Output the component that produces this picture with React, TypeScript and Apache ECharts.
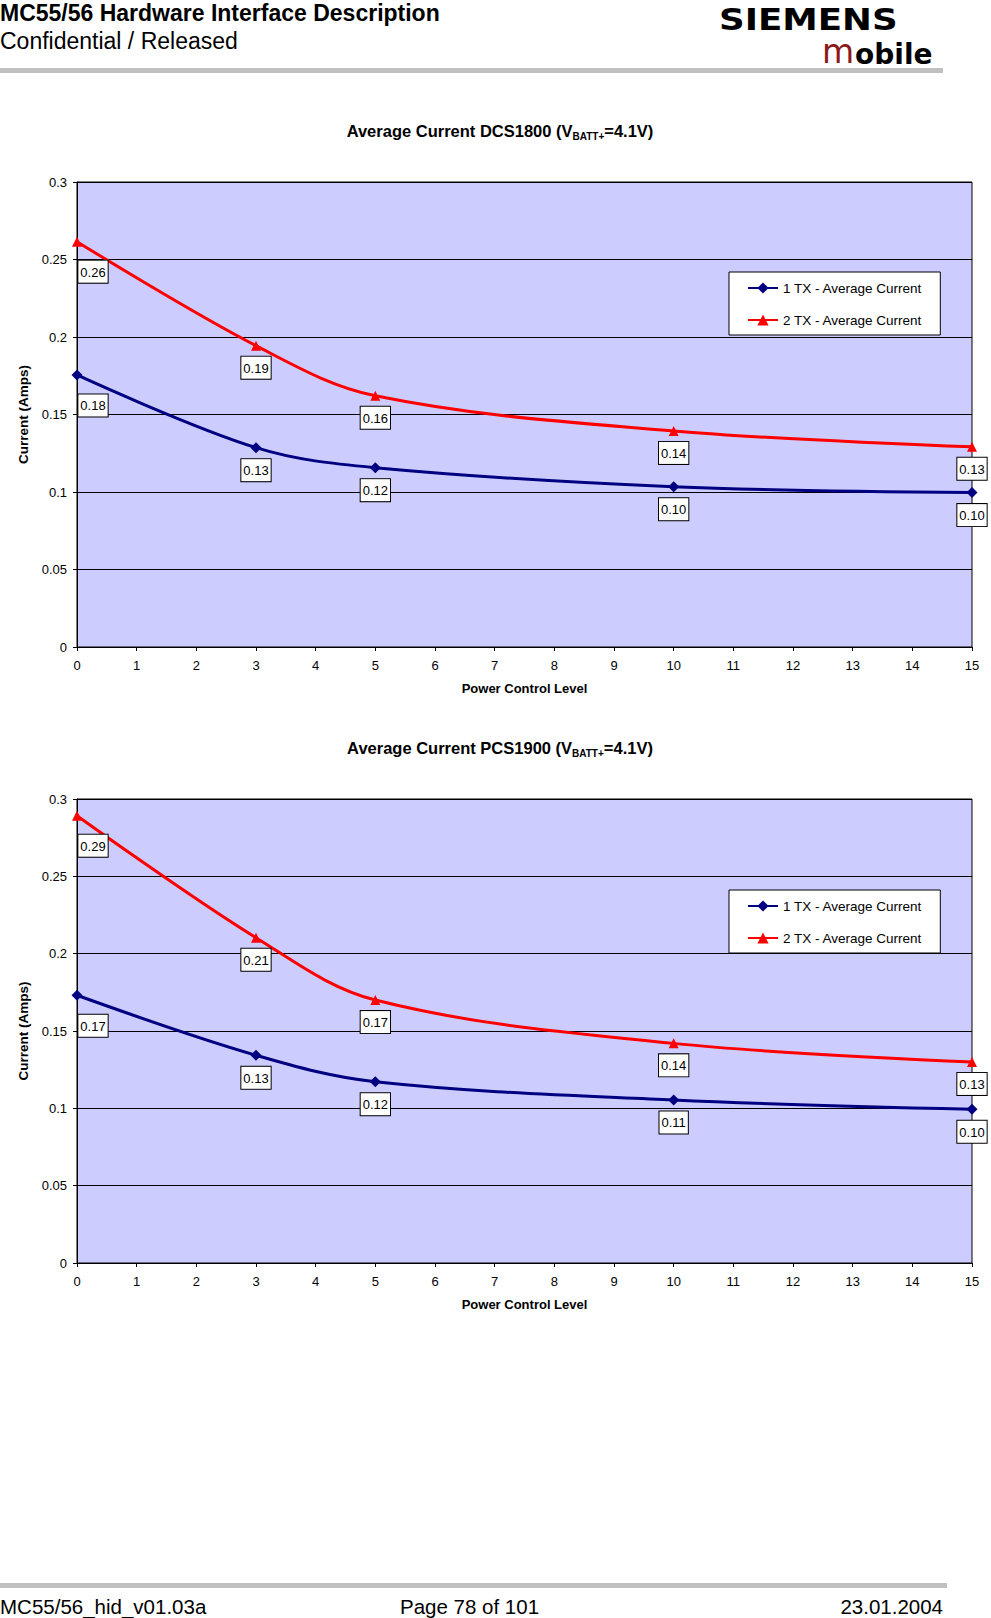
import React, { useEffect, useRef } from "react";
import * as echarts from "echarts";

const FONT = '"Liberation Sans", Arial, Helvetica, sans-serif';

// Power control levels measured
const levels = [0, 3, 5, 10, 15];

// DCS1800 (chart 1)
const dcs1Tx = [0.1755, 0.1286, 0.1157, 0.1034, 0.0996];
const dcs2Tx = [0.2615, 0.1944, 0.1621, 0.1394, 0.1292];

// PCS1900 (chart 2)
const pcs1Tx = [0.1731, 0.1343, 0.1172, 0.1054, 0.0994];
const pcs2Tx = [0.2892, 0.2103, 0.1700, 0.1420, 0.1300];

const seriesNames = ["1 TX - Average Current", "2 TX - Average Current"];
const chartTitles = ["Average Current DCS1800 (V", "Average Current PCS1900 (V"];
const yAxisName = "Current (Amps)";
const xAxisName = "Power Control Level";

const header1 = "MC55/56 Hardware Interface Description";
const header2 = "Confidential / Released";
const footerLeft = "MC55/56_hid_v01.03a";
const footerMid = "Page 78 of 101";
const footerRight = "23.01.2004";

const grids = [
  { top: 182, height: 465, titleY: 131, legendTop: 272 },
  { top: 799, height: 464, titleY: 748, legendTop: 890 },
];

function buildData(vals: number[]) {
  return levels.map((x, i) =>
    i === 0 ? { value: [x, vals[i]], label: { offset: [16, 8] } } : { value: [x, vals[i]] }
  );
}

export default function App() {
  const ref = useRef<HTMLDivElement>(null);
  useEffect(() => {
    document.body.style.margin = "0";
    if (!ref.current) return;
    const chart = echarts.init(ref.current, undefined, { renderer: "svg" });

    const labelStyle = {
      show: true,
      position: "bottom",
      distance: 6,
      formatter: (p: any) => Number(p.value[1]).toFixed(2),
      backgroundColor: "#ffffff",
      borderColor: "#000000",
      borderWidth: 1,
      padding: [4, 2, 3, 2],
      fontSize: 13,
      lineHeight: 15,
      color: "#000000",
      fontFamily: FONT,
    };

    const seriesSets = [
      [dcs1Tx, dcs2Tx],
      [pcs1Tx, pcs2Tx],
    ];

    const series: any[] = [];
    seriesSets.forEach((set, gi) => {
      series.push({
        name: seriesNames[1],
        type: "line",
        xAxisIndex: gi,
        yAxisIndex: gi,
        data: buildData(set[1]),
        smooth: 0.35,
        symbol: "triangle",
        symbolSize: 10,
        itemStyle: { color: "#ff0000" },
        lineStyle: { color: "#ff0000", width: 3 },
        label: labelStyle,
        z: 3,
      });
      series.push({
        name: seriesNames[0],
        type: "line",
        xAxisIndex: gi,
        yAxisIndex: gi,
        data: buildData(set[0]),
        smooth: 0.35,
        symbol: "diamond",
        symbolSize: 11,
        itemStyle: { color: "#000080" },
        lineStyle: { color: "#000080", width: 3 },
        label: labelStyle,
        z: 4,
      });
    });

    const graphic: any[] = [
      {
        type: "text",
        x: 0,
        y: 13,
        style: { text: header1, font: `bold 23px ${FONT}`, fill: "#000", verticalAlign: "middle" },
      },
      {
        type: "text",
        x: 0,
        y: 41,
        style: { text: header2, font: `23px ${FONT}`, fill: "#000", verticalAlign: "middle" },
      },
      {
        type: "text",
        x: 719,
        y: 1,
        scaleX: 1.15,
        style: { text: "SIEMENS", font: `bold 31px "DejaVu Sans", sans-serif`, fill: "#000", verticalAlign: "top", lineHeight: 36 },
      },
      {
        type: "text",
        x: 822,
        y: 68,
        style: { text: "m", font: `33px "DejaVu Sans", sans-serif`, fill: "#8c1a1a", verticalAlign: "bottom" },
      },
      {
        type: "text",
        x: 855,
        y: 68,
        style: { text: "obile", font: `bold 28px "DejaVu Sans", sans-serif`, fill: "#000", verticalAlign: "bottom" },
      },
      { type: "rect", shape: { x: 0, y: 68, width: 943, height: 5 }, style: { fill: "#c0c0c0" } },
      { type: "rect", shape: { x: 0, y: 1583, width: 947, height: 5 }, style: { fill: "#c0c0c0" } },
      {
        type: "text",
        x: 0,
        y: 1606,
        style: { text: footerLeft, font: `20.5px ${FONT}`, fill: "#000", verticalAlign: "middle" },
      },
      {
        type: "text",
        x: 400,
        y: 1606,
        style: { text: footerMid, font: `20.5px ${FONT}`, fill: "#000", verticalAlign: "middle" },
      },
      {
        type: "text",
        x: 943,
        y: 1606,
        style: { text: footerRight, font: `20.5px ${FONT}`, fill: "#000", align: "right", verticalAlign: "middle" },
      },
    ];

    grids.forEach((g, gi) => {
      graphic.push({
        type: "text",
        x: 500,
        y: g.titleY,
        style: {
          text: `{b|${chartTitles[gi]}}{s|BATT+}{b|=4.1V)}`,
          align: "center",
          verticalAlign: "middle",
          rich: {
            b: { fontSize: 16.5, fontWeight: "bold", fontFamily: FONT, lineHeight: 20, fill: "#000", verticalAlign: "middle" },
            s: { fontSize: 10, fontWeight: "bold", fontFamily: FONT, lineHeight: 10, fill: "#000", verticalAlign: "bottom" },
          },
        },
      });
    });

    const option: any = {
      animation: false,
      backgroundColor: "#ffffff",
      textStyle: { fontFamily: FONT },
      graphic,
      grid: grids.map((g) => ({
        left: 77,
        top: g.top,
        width: 895,
        height: g.height,
        show: true,
        backgroundColor: "#ccccff",
        borderColor: "#000000",
        borderWidth: 1,
      })),
      legend: grids.map((g) => ({
        data: seriesNames,
        orient: "vertical",
        left: 729,
        top: g.legendTop,
        width: 209,
        backgroundColor: "#ffffff",
        borderColor: "#000000",
        borderWidth: 1,
        padding: [9, 18, 8, 18],
        itemGap: 18,
        itemWidth: 30,
        itemHeight: 14,
        selectedMode: false,
        textStyle: { fontSize: 13.5, color: "#000", fontFamily: FONT, lineHeight: 14 },
      })),
      xAxis: grids.map((_, gi) => ({
        type: "value",
        gridIndex: gi,
        min: 0,
        max: 15,
        interval: 1,
        name: xAxisName,
        nameLocation: "middle",
        nameGap: 35,
        nameTextStyle: { fontSize: 13, fontWeight: "bold", color: "#000", fontFamily: FONT },
        axisLine: { show: true, lineStyle: { color: "#000", width: 1 } },
        axisTick: { show: true, length: 4, lineStyle: { color: "#000" } },
        axisLabel: { color: "#000", fontSize: 13, margin: 12, fontFamily: FONT },
        splitLine: { show: false },
      })),
      yAxis: grids.map((_, gi) => ({
        type: "value",
        gridIndex: gi,
        min: 0,
        max: 0.3,
        interval: 0.05,
        name: yAxisName,
        nameLocation: "middle",
        nameGap: 43,
        nameTextStyle: { fontSize: 13.5, fontWeight: "bold", color: "#000", fontFamily: FONT },
        axisLine: { show: true, lineStyle: { color: "#000", width: 1 } },
        axisTick: { show: true, length: 4, lineStyle: { color: "#000" } },
        axisLabel: {
          color: "#000",
          fontSize: 13,
          margin: 10,
          fontFamily: FONT,
          formatter: (v: number) => String(Number(v.toFixed(2))),
        },
        splitLine: { show: true, lineStyle: { color: "#000", width: 1 } },
      })),
      series,
    };

    chart.setOption(option);
    return () => chart.dispose();
  }, []);

  return <div ref={ref} style={{ width: 991, height: 1618 }} />;
}
